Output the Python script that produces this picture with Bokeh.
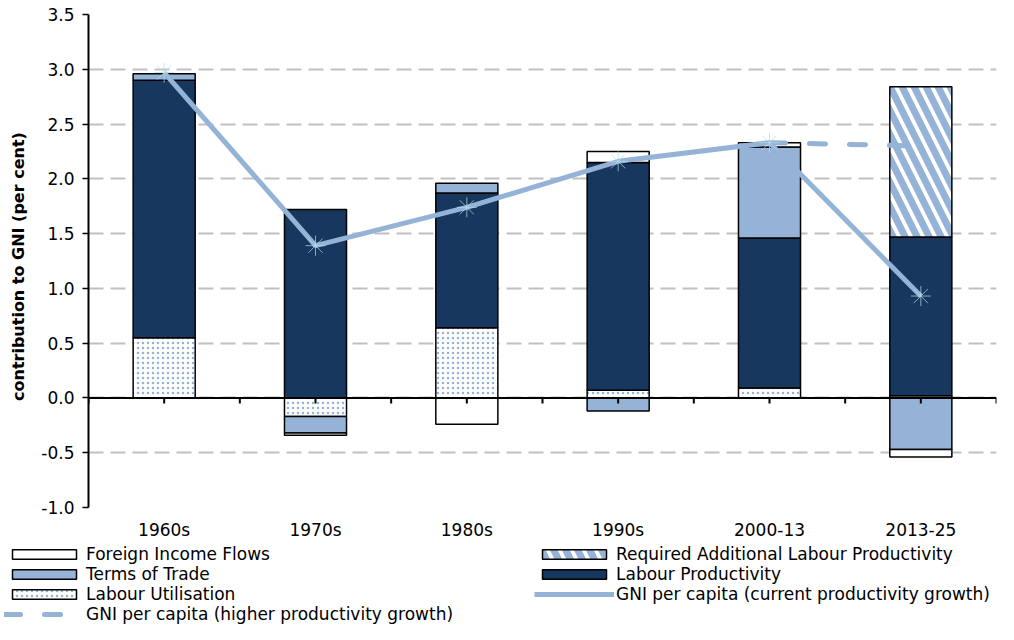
import numpy as np
from bokeh.plotting import figure
from bokeh.models import (FixedTicker, Span, Legend, LegendItem, ColumnDataSource,
                          NumeralTickFormatter)
from bokeh.embed import file_html
from bokeh.resources import INLINE

# ---------------- data ----------------
categories = ["1960s", "1970s", "1980s", "1990s", "2000-13", "2013-25"]
labour_utilisation = [0.55, -0.17, 0.64, 0.07, 0.09, 0.02]
labour_productivity = [2.35, 1.72, 1.23, 2.08, 1.37, 1.45]
terms_of_trade = [0.06, -0.15, 0.09, -0.12, 0.83, -0.47]
foreign_income_flows = [0.00, -0.02, -0.24, 0.10, 0.04, -0.07]
required_additional = [0.00, 0.00, 0.00, 0.00, 0.00, 1.37]
gni_current = [2.97, 1.39, 1.74, 2.16, 2.33, 0.93]
gni_higher = [np.nan, np.nan, np.nan, np.nan, 2.33, 2.30]
y_ticks = [-1.0, -0.5, 0.0, 0.5, 1.0, 1.5, 2.0, 2.5, 3.0, 3.5]

NAVY = "#17375E"
LIGHT = "#95B3D7"
FONT = "DejaVu Sans"

xs = np.arange(len(categories))

p = figure(width=998, height=542, x_range=(-0.5, len(categories) - 0.5),
           y_range=(y_ticks[0], y_ticks[-1]), output_backend="svg",
           toolbar_location=None, min_border_left=88, min_border_right=2,
           min_border_top=14, min_border_bottom=35)
p.outline_line_color = None
p.background_fill_color = "white"
p.xgrid.grid_line_color = None
p.ygrid.ticker = FixedTicker(ticks=y_ticks)
p.ygrid.grid_line_color = "#C0C0C0"
p.ygrid.grid_line_width = 2
p.ygrid.grid_line_dash = "15 7"

# y axis
p.yaxis.ticker = FixedTicker(ticks=y_ticks)
p.yaxis.formatter = NumeralTickFormatter(format="0.0")
p.yaxis.minor_tick_line_color = None
p.yaxis.major_tick_in = 0
p.yaxis.major_tick_out = 6
p.yaxis.major_tick_line_width = 1.5
p.yaxis.axis_line_width = 2
p.yaxis.axis_line_color = "black"
p.yaxis.major_label_text_font = FONT
p.yaxis.major_label_text_font_size = "17px"
p.yaxis.major_label_text_color = "black"
p.yaxis.major_label_standoff = 8
p.yaxis.axis_label = "contribution  to GNI (per  cent)"
p.yaxis.axis_label_text_font = FONT
p.yaxis.axis_label_text_font_size = "16px"
p.yaxis.axis_label_text_font_style = "bold"
p.yaxis.axis_label_text_color = "black"
p.yaxis.axis_label_standoff = 10

# x axis (labels only; axis line drawn at zero)
p.xaxis.ticker = FixedTicker(ticks=list(xs))
p.xaxis.major_label_overrides = {int(i): c for i, c in zip(xs, categories)}
p.xaxis.axis_line_color = None
p.xaxis.major_tick_line_color = None
p.xaxis.minor_tick_line_color = None
p.xaxis.major_tick_out = 0
p.xaxis.major_tick_in = 0
p.xaxis.major_label_text_font = FONT
p.xaxis.major_label_text_font_size = "17px"
p.xaxis.major_label_text_color = "black"
p.xaxis.major_label_standoff = 12

# stacked bars
series = [
    ("Labour Utilisation", labour_utilisation,
     dict(fill_color="white", hatch_pattern="dot", hatch_color=LIGHT, hatch_scale=5, hatch_weight=2)),
    ("Labour Productivity", labour_productivity, dict(fill_color=NAVY)),
    ("Terms of Trade", terms_of_trade, dict(fill_color=LIGHT)),
    ("Foreign Income Flows", foreign_income_flows, dict(fill_color="white")),
    ("Required Additional Labour Productivity", required_additional,
     dict(fill_color="white", hatch_pattern="left_diagonal_line", hatch_color=LIGHT,
          hatch_scale=24, hatch_weight=7)),
]
sources = {}
pos_base = np.zeros(len(categories))
neg_base = np.zeros(len(categories))
for name, vals, style in series:
    v = np.array(vals, dtype=float)
    bottom = np.where(v >= 0, pos_base, neg_base)
    top = bottom + v
    pos_base = np.where(v >= 0, top, pos_base)
    neg_base = np.where(v < 0, top, neg_base)
    keep = v != 0
    src = ColumnDataSource(dict(x=xs[keep], bottom=bottom[keep], top=top[keep]))
    p.vbar(x="x", bottom="bottom", top="top", width=0.41, source=src,
           line_color="black", line_width=1.5, **style)
    sources[name] = src

# zero axis line with ticks at centres and boundaries
p.add_layout(Span(location=0, dimension="width", line_color="black", line_width=2))
tick_x = np.arange(len(categories) * 2 + 1) / 2 - 0.5
p.segment(x0=tick_x, y0=np.zeros_like(tick_x), x1=tick_x, y1=np.full_like(tick_x, -0.05),
          line_color="black", line_width=2)

# GNI lines
line_cur = dict(line_color=LIGHT, line_width=5)
line_hi = dict(line_color=LIGHT, line_width=5, line_dash="16 24", line_cap="round")
gni_src = ColumnDataSource(dict(x=xs, cur=gni_current, hi=gni_higher))
p.line("x", "cur", source=gni_src, **line_cur)
p.line("x", "hi", source=gni_src, **line_hi)
p.scatter("x", "cur", source=gni_src, marker="asterisk", size=20, line_color="#B7DEE8",
          line_width=1, line_alpha=0.7)

# ---------------- legend panel (separate root, hidden swatch renderers) ----------------
lg = figure(width=998, height=82, x_range=(-0.5, len(categories) - 0.5),
            y_range=(y_ticks[0], y_ticks[-1]), output_backend="svg",
            toolbar_location=None, min_border=0)
lg.axis.visible = False
lg.grid.visible = False
lg.outline_line_color = None
sw = {}
for name, _, style in series:
    sw[name] = lg.vbar(x="x", bottom="bottom", top="top", width=0.41, source=sources[name],
                       line_color="black", line_width=1.5, visible=False, **style)
sw_cur = lg.line("x", "cur", source=gni_src, visible=False, **line_cur)
sw_hi = lg.line("x", "hi", source=gni_src, visible=False, **line_hi)

common = dict(border_line_color=None, background_fill_alpha=0, padding=0, margin=0, spacing=0,
              glyph_width=80, glyph_height=12, label_standoff=2, label_text_font=FONT,
              label_text_font_size="17px", label_text_color="black", label_height=18,
              inactive_fill_alpha=0)
leg1 = Legend(items=[
    LegendItem(label="Foreign Income Flows", renderers=[sw["Foreign Income Flows"]]),
    LegendItem(label="Terms of Trade", renderers=[sw["Terms of Trade"]]),
    LegendItem(label="Labour Utilisation", renderers=[sw["Labour Utilisation"]]),
    LegendItem(label="GNI per capita (higher productivity growth)", renderers=[sw_hi]),
], location=(4, 0), **common)
leg2 = Legend(items=[
    LegendItem(label="Required Additional Labour Productivity",
               renderers=[sw["Required Additional Labour Productivity"]]),
    LegendItem(label="Labour Productivity", renderers=[sw["Labour Productivity"]]),
    LegendItem(label="GNI per capita (current productivity growth)", renderers=[sw_cur]),
], location=(534, 20), **common)
lg.add_layout(leg1)
lg.add_layout(leg2)

open("out.html", "w").write(file_html([p, lg], INLINE))
